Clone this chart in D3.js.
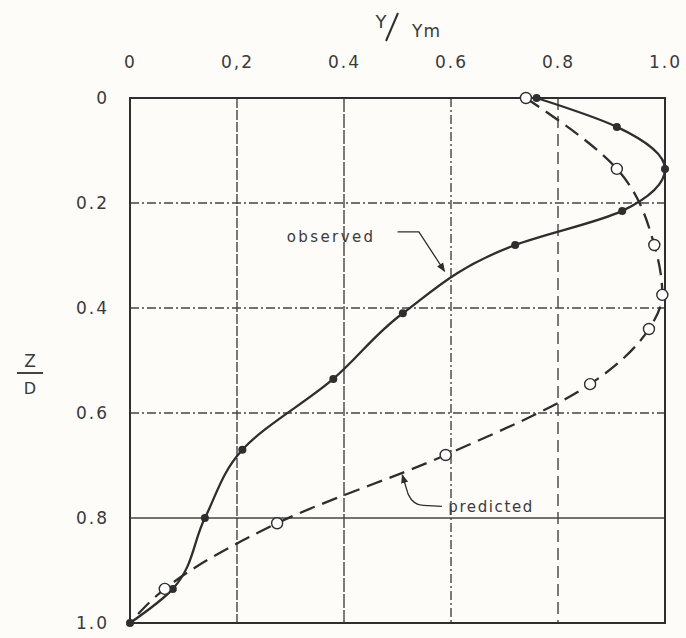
<!DOCTYPE html>
<html>
<head>
<meta charset="utf-8">
<script src="https://cdn.jsdelivr.net/npm/d3@7"></script>
<style>
  body { margin: 0; background: #fdfcf9; }
  svg text { font-family: "DejaVu Sans", sans-serif; fill: #3a3a3a; }
</style>
</head>
<body>
<svg id="chart" width="686" height="638"></svg>
<script>
// tick values and their printed labels
const xTicks = [0, 0.2, 0.4, 0.6, 0.8, 1.0];
const xTickLabels = ["0", "0,2", "0.4", "0.6", "0.8", "1.0"];
const yTicks = [0, 0.2, 0.4, 0.6, 0.8, 1.0];
const yTickLabels = ["0", "0.2", "0.4", "0.6", "0.8", "1.0"];

// observed profile (filled dots): Y/Ym, Z/D
const observedY = [0.76, 0.91, 1.0, 0.92, 0.72, 0.51, 0.38, 0.21, 0.14, 0.08, 0.0];
const observedZ = [0.0, 0.055, 0.135, 0.215, 0.28, 0.41, 0.535, 0.67, 0.80, 0.935, 1.0];

// predicted profile (open circles)
const predictedY = [0.74, 0.91, 0.98, 0.995, 0.97, 0.86, 0.59, 0.275, 0.065, 0.0];
const predictedZ = [0.0, 0.135, 0.28, 0.375, 0.44, 0.545, 0.68, 0.81, 0.935, 1.0];

const svg = d3.select("#chart");
const m = { left: 130, right: 665, top: 98, bottom: 623 };

const x = d3.scaleLinear().domain([0, 1]).range([m.left, m.right]);
const y = d3.scaleLinear().domain([0, 1]).range([m.top, m.bottom]);

const ink = "#2e2e2e";

// grid lines, each one drawn a little differently like the original
const vDash = ["10,2", "14,2", "9,3,2,3", "12,6"];
const hDash = ["9,3,2,3", "9,3,2,3", "9,3,2,3", null];

svg.append("g")
    .selectAll("line")
    .data(xTicks.slice(1, -1))
    .enter()
    .append("line")
    .attr("x1", d => x(d)).attr("x2", d => x(d))
    .attr("y1", m.top).attr("y2", m.bottom)
    .attr("stroke", "#444")
    .attr("stroke-width", 1.4)
    .attr("stroke-dasharray", (d, i) => vDash[i]);

svg.append("g")
    .selectAll("line")
    .data(yTicks.slice(1, -1))
    .enter()
    .append("line")
    .attr("x1", m.left).attr("x2", m.right)
    .attr("y1", d => y(d)).attr("y2", d => y(d))
    .attr("stroke", "#444")
    .attr("stroke-width", 1.4)
    .attr("stroke-dasharray", (d, i) => hDash[i]);

// frame
svg.append("rect")
    .attr("x", m.left).attr("y", m.top)
    .attr("width", m.right - m.left).attr("height", m.bottom - m.top)
    .attr("fill", "none")
    .attr("stroke", ink)
    .attr("stroke-width", 2);

// axes (labels only)
const xAxis = svg.append("g")
    .attr("transform", `translate(0, ${m.top - 27})`)
    .call(d3.axisTop(x).tickValues(xTicks).tickSize(0).tickFormat((d, i) => xTickLabels[i]));
xAxis.select(".domain").remove();
xAxis.selectAll("text")
    .attr("font-size", 17)
    .attr("letter-spacing", 2);

const yAxis = svg.append("g")
    .attr("transform", `translate(${m.left - 18}, 0)`)
    .call(d3.axisLeft(y).tickValues(yTicks).tickSize(0).tickFormat((d, i) => yTickLabels[i]));
yAxis.select(".domain").remove();
yAxis.selectAll("text")
    .attr("font-size", 17)
    .attr("letter-spacing", 2);

// axis titles
const xt = svg.append("g");
xt.append("text").attr("x", 381).attr("y", 28).attr("text-anchor", "middle")
    .attr("font-size", 18).text("Y");
xt.append("line").attr("x1", 398).attr("y1", 13).attr("x2", 386).attr("y2", 41)
    .attr("stroke", ink).attr("stroke-width", 2);
xt.append("text").attr("x", 412).attr("y", 37)
    .attr("font-size", 17).attr("letter-spacing", 1).text("Ym");

const yt = svg.append("g");
yt.append("text").attr("x", 30).attr("y", 367).attr("text-anchor", "middle")
    .attr("font-size", 17).text("Z");
yt.append("line").attr("x1", 17).attr("x2", 43).attr("y1", 373).attr("y2", 373)
    .attr("stroke", ink).attr("stroke-width", 1.8);
yt.append("text").attr("x", 30).attr("y", 394).attr("text-anchor", "middle")
    .attr("font-size", 16).text("D");

// curves
const observed = observedY.map((v, i) => [v, observedZ[i]]);
const predicted = predictedY.map((v, i) => [v, predictedZ[i]]);

const line = d3.line()
    .x(d => x(d[0]))
    .y(d => y(d[1]))
    .curve(d3.curveMonotoneY);

svg.append("path")
    .datum(predicted)
    .attr("d", line)
    .attr("fill", "none")
    .attr("stroke", ink)
    .attr("stroke-width", 2.3)
    .attr("stroke-dasharray", "16,8");

svg.append("path")
    .datum(observed)
    .attr("d", line)
    .attr("fill", "none")
    .attr("stroke", ink)
    .attr("stroke-width", 2.3);

svg.append("g")
    .selectAll("circle")
    .data(observed)
    .enter()
    .append("circle")
    .attr("cx", d => x(d[0]))
    .attr("cy", d => y(d[1]))
    .attr("r", 4)
    .attr("fill", ink);

svg.append("g")
    .selectAll("circle")
    .data(predicted.slice(0, -1))
    .enter()
    .append("circle")
    .attr("cx", d => x(d[0]))
    .attr("cy", d => y(d[1]))
    .attr("r", 5.5)
    .attr("fill", "#fff")
    .attr("stroke", ink)
    .attr("stroke-width", 1.4);

// labels with leader arrows
svg.append("defs").append("marker")
    .attr("id", "arrow")
    .attr("viewBox", "0 0 10 10")
    .attr("refX", 9).attr("refY", 5)
    .attr("markerWidth", 7).attr("markerHeight", 7)
    .attr("orient", "auto")
    .append("path")
    .attr("d", "M0,1 L10,5 L0,9 Z")
    .attr("fill", ink);

svg.append("text")
    .attr("x", x(0.293)).attr("y", y(0.275))
    .attr("font-size", 15).attr("letter-spacing", 2.4)
    .text("observed");

svg.append("path")
    .attr("d", `M${x(0.50)},${y(0.255)} L${x(0.54)},${y(0.255)} L${x(0.588)},${y(0.33)}`)
    .attr("fill", "none")
    .attr("stroke", ink)
    .attr("stroke-width", 1.3)
    .attr("marker-end", "url(#arrow)");

svg.append("text")
    .attr("x", x(0.595)).attr("y", y(0.788))
    .attr("font-size", 15).attr("letter-spacing", 1.6)
    .text("predicted");

svg.append("path")
    .attr("d", `M${x(0.583)},${y(0.778)} L${x(0.548)},${y(0.776)} Q${x(0.53)},${y(0.776)} ${x(0.52)},${y(0.755)} L${x(0.509)},${y(0.718)}`)
    .attr("fill", "none")
    .attr("stroke", ink)
    .attr("stroke-width", 1.3)
    .attr("marker-end", "url(#arrow)");
</script>
</body>
</html>
